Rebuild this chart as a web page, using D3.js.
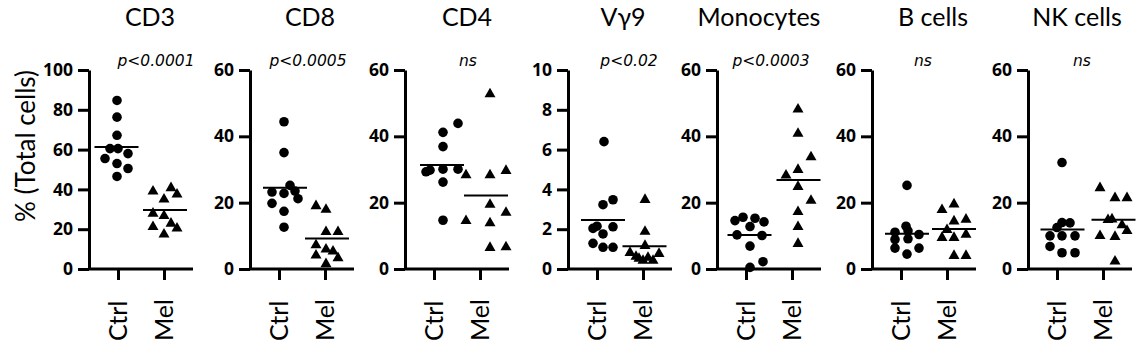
<!DOCTYPE html>
<html>
<head>
<meta charset="utf-8">
<script src="https://cdn.jsdelivr.net/npm/d3@7"></script>
<style>
  body { margin: 0; background: #fff; }
  .title { font-family: Lato, "Open Sans", sans-serif; font-size: 25px; fill: #000; }
  .pval { font-family: "DejaVu Sans", sans-serif; font-style: italic; font-size: 15.5px; fill: #000; }
  .tick text { font-family: "Open Sans", sans-serif; font-weight: 700; font-size: 17.5px; fill: #000; }
  .group { font-family: Lato, "Open Sans", sans-serif; font-size: 25px; fill: #000; }
  .ylab { font-family: Lato, "Open Sans", sans-serif; font-size: 26px; fill: #000; }
</style>
</head>
<body>
<div id="chart"></div>
<script>
// panels, groups and annotations
var panels = ["CD3", "CD8", "CD4", "Vγ9", "Monocytes", "B cells", "NK cells"];
var groups = ["Ctrl", "Mel"];
var pLabels = ["p<0.0001", "p<0.0005", "ns", "p<0.02", "p<0.0003", "ns", "ns"];
var yMax = [100, 60, 60, 10, 60, 60, 60];
var yStep = [20, 20, 20, 2, 20, 20, 20];

// % of total cells
var cd3Ctrl = [84.7, 76.3, 67.2, 60.5, 60.5, 58, 55.5, 53, 50.5, 46.5];
var cd3Mel  = [39.8, 41.5, 38.3, 35.8, 28.7, 27.5, 22, 23.7, 21.2, 18.2];
var cd8Ctrl = [44.4, 35.1, 25.2, 23.2, 22.8, 23.5, 21.2, 19.8, 17.4, 12.6];
var cd8Mel  = [19.5, 18.4, 11.7, 11.7, 7.7, 4.6, 6.4, 5.8, 3.8, 2.0];
var cd4Ctrl = [43.9, 41.2, 36.9, 29.8, 29.3, 30.1, 30.1, 26.2, 14.7];
var cd4Mel  = [53.2, 28.8, 28.8, 30.1, 19.9, 17.5, 15, 14.3, 6.9, 7.1];
var vg9Ctrl = [6.4, 3.23, 3.48, 2.04, 2.15, 2.12, 1.76, 1.29, 1.09, 1.09];
var vg9Mel  = [3.56, 1.96, 1.25, 0.9, 0.7, 0.5, 0.65, 0.5, 0.85, 0.6];
var monoCtrl = [14.6, 15.6, 15.3, 14.2, 12.8, 10.3, 10.1, 6.9, 2.2, 0.5];
var monoMel  = [48.6, 41.3, 34.2, 28.7, 30.4, 25.3, 21.1, 17.7, 13.2, 8.1];
var bCtrl = [25.2, 12.9, 11.1, 11.5, 10.4, 9.1, 8.9, 6.3, 6.3, 4.5];
var bMel  = [20, 18.3, 14.9, 15.4, 12.3, 9.9, 9.9, 10.9, 4.5, 4.5];
var nkCtrl = [32.1, 14, 12.5, 13.9, 10, 10, 10, 6.8, 4.9, 4.9];
var nkMel  = [24.9, 21.9, 21.9, 15.3, 13.7, 10.5, 10.2, 12, 2.8, 15.5];

// horizontal scatter of each dot from its column (px), as placed in the picture
var cd3CtrlJit = [-1, -1, -1, -8, 0, 10, -13, -1, 10, -1];
var cd3MelJit  = [-11, 7, 13, 0, -11, 0, -11, 7, 13, 0];
var cd8CtrlJit = [5, 5, 11, -7, 5, 16, 19, -7, 5, 5];
var cd8MelJit  = [-9, 1, 1, 13, -9, -9, 1, 8, 13, 1];
var cd4CtrlJit = [24, 9, 9, -4, -8, 9, 24, 9, 9];
var cd4MelJit  = [10, -14, 10, 26, 10, 26, -14, 10, 10, 26];
var vg9CtrlJit = [7, 6, 16, -4, 0, 16, 6, -4, 6, 16];
var vg9MelJit  = [2, 2, 2, -13, -7, 0, 5, 10, 16, -4];
var monoCtrlJit = [-11, -3, 9, 18, 4, -9, 16, 4, 17, 4];
var monoMelJit  = [6, 6, 19, -6, 6, 6, 19, 6, 6, 6];
var bCtrlJit = [6, 5, -6, 7, 18, 7, -6, -6, 18, 6];
var bMelJit  = [7, -5, 7, 19, 0, -5, 7, 19, 7, 19];
var nkCtrlJit = [5, 5, 0, 13, -7, 5, 18, -7, 5, 18];
var nkMelJit  = [-3, 12, 24, 5, 19, -3, 12, 24, 12, 9];

var ctrlSeries = [cd3Ctrl, cd8Ctrl, cd4Ctrl, vg9Ctrl, monoCtrl, bCtrl, nkCtrl];
var melSeries  = [cd3Mel, cd8Mel, cd4Mel, vg9Mel, monoMel, bMel, nkMel];
var ctrlJit = [cd3CtrlJit, cd8CtrlJit, cd4CtrlJit, vg9CtrlJit, monoCtrlJit, bCtrlJit, nkCtrlJit];
var melJit  = [cd3MelJit, cd8MelJit, cd4MelJit, vg9MelJit, monoMelJit, bMelJit, nkMelJit];

// layout
var width = 1141, height = 346;
var yTop = 70, yBottom = 269, axisLen = 104;
var axisX  = [89, 250, 405, 568, 717, 872, 1028];
var titleX = [150, 310, 467, 623, 759, 933, 1077];
var pX     = [156, 308, 468, 629, 771, 923, 1082];

var svg = d3.select("#chart")
  .append("svg")
    .attr("width", width)
    .attr("height", height);

// y axis title
svg.append("text")
  .attr("class", "ylab")
  .attr("transform", "translate(35,146) rotate(-90)")
  .style("text-anchor", "middle")
  .text("% (Total cells)");

var x = d3.scalePoint()
  .domain(groups)
  .range([29, 75]);

// triangle centred on its box
function tri(cx, cy) {
  var w = 5.5, h = 4.8;
  return "M" + cx + "," + (cy - h) + "L" + (cx + w) + "," + (cy + h) + "L" + (cx - w) + "," + (cy + h) + "Z";
}

panels.forEach(function(name, i) {
  var g = svg.append("g")
    .attr("transform", "translate(" + axisX[i] + ",0)");

  var y = d3.scaleLinear()
    .domain([0, yMax[i]])
    .range([yBottom, yTop]);

  // Y axis
  g.append("g")
    .call(d3.axisLeft(y)
      .tickValues(d3.range(0, yMax[i] + yStep[i] / 2, yStep[i]))
      .tickSize(11)
      .tickSizeOuter(0)
      .tickPadding(5))
    .call(g => g.selectAll("line, path").attr("stroke", "#000").attr("stroke-width", 3));

  // X axis
  g.append("line")
    .attr("x1", 0)
    .attr("x2", axisLen)
    .attr("y1", y(0))
    .attr("y2", y(0))
    .attr("stroke", "#000")
    .attr("stroke-width", 3);
  g.append("g")
    .attr("transform", "translate(0," + y(0) + ")")
    .call(d3.axisBottom(x).tickSize(11).tickFormat(""))
    .call(g => g.select(".domain").remove())
    .call(g => g.selectAll("line").attr("stroke", "#000").attr("stroke-width", 3));

  groups.forEach(function(grp) {
    g.append("text")
      .attr("class", "group")
      .attr("transform", "translate(" + x(grp) + ",341) rotate(-90)")
      .attr("dy", "0.35em")
      .style("text-anchor", "start")
      .text(grp);
  });

  // title and p value
  svg.append("text")
    .attr("class", "title")
    .attr("x", titleX[i])
    .attr("y", 26)
    .style("text-anchor", "middle")
    .text(name);
  svg.append("text")
    .attr("class", "pval")
    .attr("x", pX[i])
    .attr("y", 66)
    .style("text-anchor", "middle")
    .text(pLabels[i]);

  var ctrl = ctrlSeries[i].map((v, j) => ({v: v, dx: ctrlJit[i][j]}));
  var mel = melSeries[i].map((v, j) => ({v: v, dx: melJit[i][j]}));

  // Circles for Ctrl
  g.selectAll("ctrlDot")
    .data(ctrl)
    .enter()
    .append("circle")
      .attr("cx", d => x("Ctrl") + d.dx)
      .attr("cy", d => y(d.v))
      .attr("r", 4.8)
      .attr("fill", "#000");

  // Triangles for Mel
  g.selectAll("melDot")
    .data(mel)
    .enter()
    .append("path")
      .attr("d", d => tri(x("Mel") + d.dx, y(d.v)))
      .attr("fill", "#000");

  // mean lines
  [[ctrl, "Ctrl"], [mel, "Mel"]].forEach(function(s) {
    var pts = s[0];
    var c = x(s[1]) + (d3.min(pts, d => d.dx) + d3.max(pts, d => d.dx)) / 2;
    var m = d3.mean(pts, d => d.v);
    g.append("line")
      .attr("x1", c - 22)
      .attr("x2", c + 22)
      .attr("y1", y(m))
      .attr("y2", y(m))
      .attr("stroke", "#000")
      .attr("stroke-width", 2);
  });
});
</script>
</body>
</html>
